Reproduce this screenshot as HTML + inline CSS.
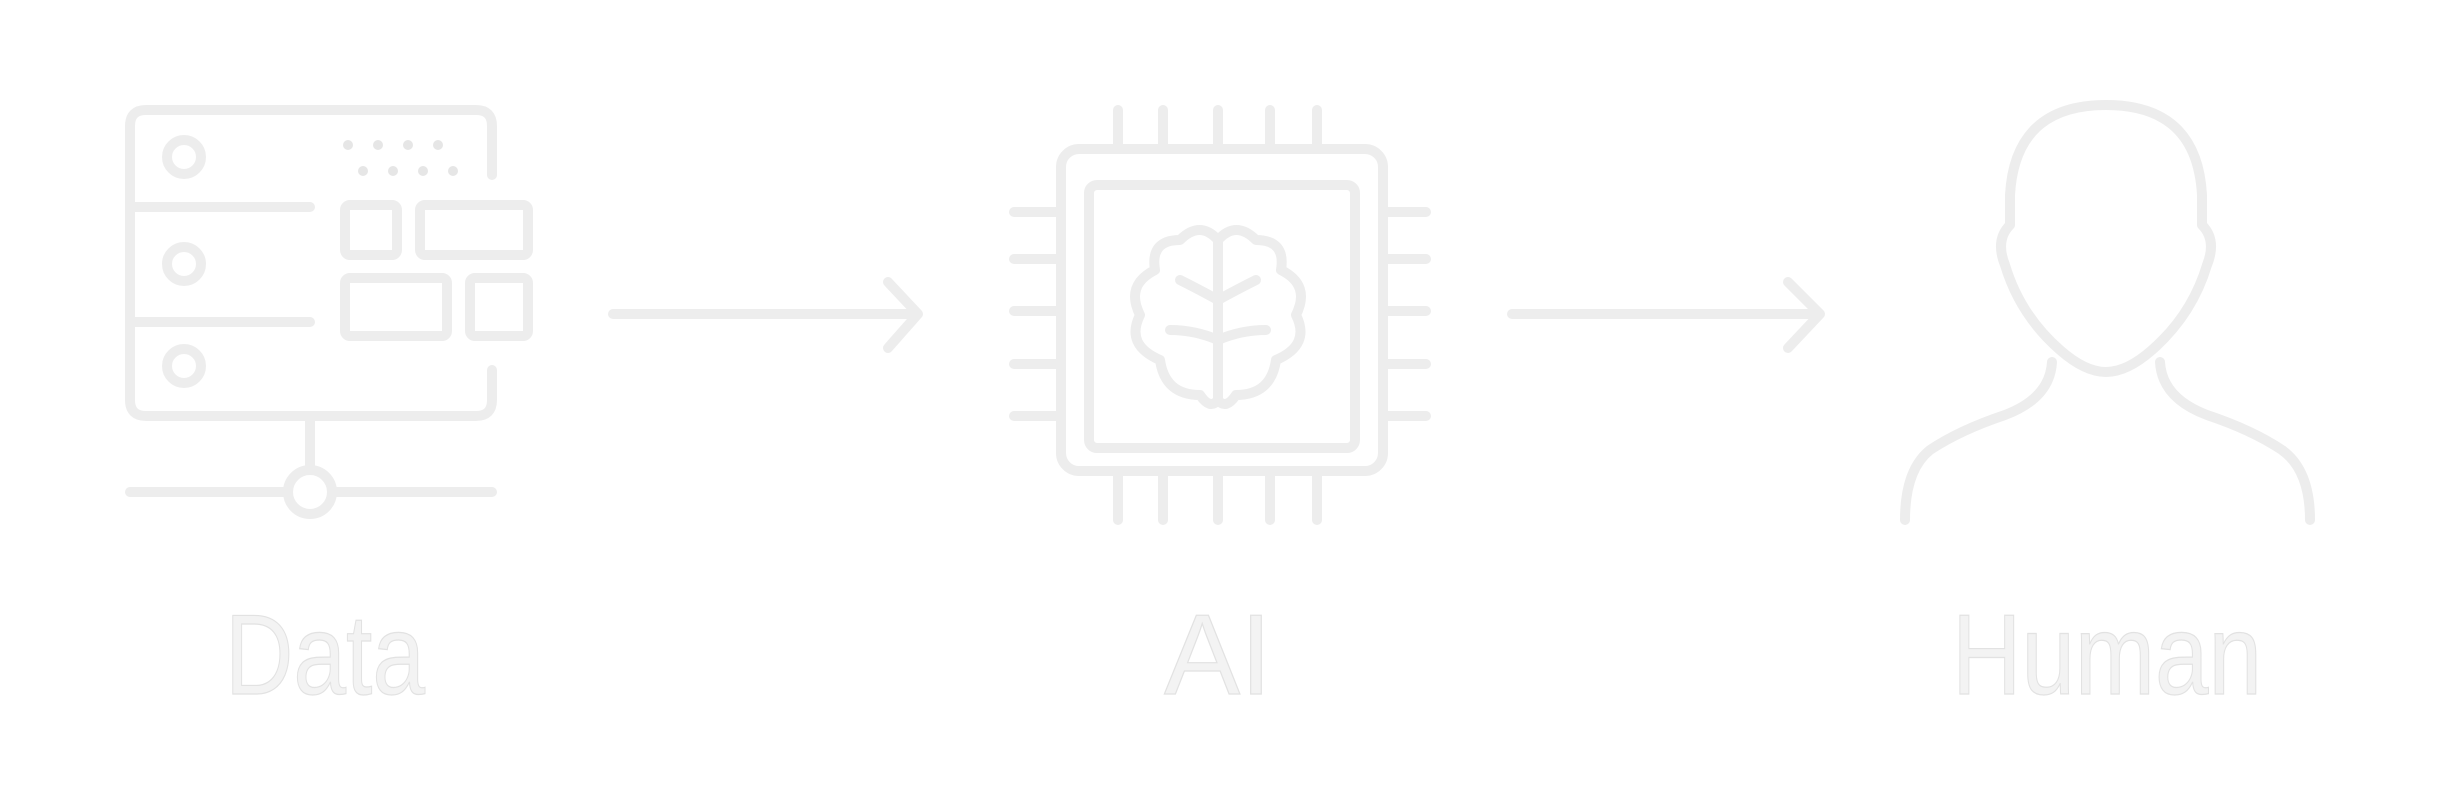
<!DOCTYPE html>
<html><head><style>
html,body{margin:0;padding:0;background:#fff;}
svg{display:block}
text{font-family:"Liberation Sans Narrow","Liberation Sans",sans-serif;fill:#f3f3f3;stroke:#e2e2e2;stroke-width:1.2}
</style></head><body>
<svg width="2464" height="804" viewBox="0 0 2464 804" xmlns="http://www.w3.org/2000/svg">
<g fill="none" stroke="#ededed" stroke-width="10" stroke-linecap="round" stroke-linejoin="round">
 <!-- Data server -->
 <path d="M492 370 V400 Q492 416 476 416 H146 Q130 416 130 400 V126 Q130 110 146 110 H476 Q492 110 492 126 V175"/>
 <line x1="130" y1="207" x2="310" y2="207"/>
 <line x1="130" y1="322" x2="310" y2="322"/>
 <circle cx="184" cy="157" r="17"/>
 <circle cx="184" cy="264" r="17"/>
 <circle cx="184" cy="366" r="17"/>
 <rect x="345" y="205" width="52" height="50" rx="5"/>
 <rect x="420" y="205" width="108" height="50" rx="5"/>
 <rect x="345" y="278" width="102" height="58" rx="5"/>
 <rect x="470" y="278" width="58" height="58" rx="5"/>
 <line x1="310" y1="416" x2="310" y2="470"/>
 <circle cx="310" cy="492" r="22"/>
 <line x1="130" y1="492" x2="288" y2="492"/>
 <line x1="332" y1="492" x2="492" y2="492"/>
 <g stroke-width="0" fill="#e6e6e6">
  <circle cx="348" cy="145" r="5"/><circle cx="378" cy="145" r="5"/><circle cx="408" cy="145" r="5"/><circle cx="438" cy="145" r="5"/>
  <circle cx="363" cy="171" r="5"/><circle cx="393" cy="171" r="5"/><circle cx="423" cy="171" r="5"/><circle cx="453" cy="171" r="5"/>
 </g>
 <!-- arrows -->
 <line x1="613" y1="314" x2="915" y2="314"/>
 <polyline points="888,282 918,314 888,348"/>
 <line x1="1512" y1="314" x2="1818" y2="314"/>
 <polyline points="1788,282 1820,314 1788,348"/>
 <!-- chip -->
 <rect x="1061" y="149" width="322" height="322" rx="18"/>
 <rect x="1089" y="185" width="266" height="263" rx="8"/>
 <g>
  <line x1="1118" y1="110" x2="1118" y2="149"/><line x1="1163" y1="110" x2="1163" y2="149"/><line x1="1218" y1="110" x2="1218" y2="149"/><line x1="1270" y1="110" x2="1270" y2="149"/><line x1="1317" y1="110" x2="1317" y2="149"/>
  <line x1="1118" y1="471" x2="1118" y2="520"/><line x1="1163" y1="471" x2="1163" y2="520"/><line x1="1218" y1="471" x2="1218" y2="520"/><line x1="1270" y1="471" x2="1270" y2="520"/><line x1="1317" y1="471" x2="1317" y2="520"/>
  <line x1="1014" y1="212" x2="1061" y2="212"/><line x1="1014" y1="259" x2="1061" y2="259"/><line x1="1014" y1="311" x2="1061" y2="311"/><line x1="1014" y1="364" x2="1061" y2="364"/><line x1="1014" y1="416" x2="1061" y2="416"/>
  <line x1="1383" y1="212" x2="1426" y2="212"/><line x1="1383" y1="259" x2="1426" y2="259"/><line x1="1383" y1="311" x2="1426" y2="311"/><line x1="1383" y1="364" x2="1426" y2="364"/><line x1="1383" y1="416" x2="1426" y2="416"/>
 </g>
 <!-- brain -->
 <path d="M1218 240 Q1200 220 1180 240 Q1150 240 1155 270 Q1125 285 1140 315 Q1125 345 1160 360 Q1165 395 1200 395 Q1210 410 1218 400 Q1226 410 1236 395 Q1271 395 1276 360 Q1311 345 1296 315 Q1311 285 1281 270 Q1286 240 1256 240 Q1236 220 1218 240 Z"/>
 <line x1="1218" y1="240" x2="1218" y2="400"/>
 <path d="M1180 280 Q1200 290 1218 300 M1256 280 Q1236 290 1218 300 M1170 330 Q1195 330 1218 340 M1266 330 Q1241 330 1218 340"/>
 <!-- human -->
 <path d="M2106 105 Q2015 105 2010 195 L2010 225 Q1995 240 2005 265 Q2020 315 2060 350 Q2085 372 2106 372 Q2127 372 2152 350 Q2192 315 2207 265 Q2217 240 2202 225 L2202 195 Q2197 105 2106 105 Z"/>
 <path d="M2052 362 Q2050 398 2005 415 Q1960 430 1930 450 Q1905 470 1905 520"/>
 <path d="M2160 362 Q2162 398 2207 415 Q2252 430 2282 450 Q2310 470 2310 520"/>
</g>
<text x="325" y="694" font-size="114" text-anchor="middle" textLength="200" lengthAdjust="spacingAndGlyphs">Data</text>
<text x="1218" y="694" font-size="114" text-anchor="middle">AI</text>
<text x="2107" y="694" font-size="114" text-anchor="middle" textLength="310" lengthAdjust="spacingAndGlyphs">Human</text>
</svg>
</body></html>
